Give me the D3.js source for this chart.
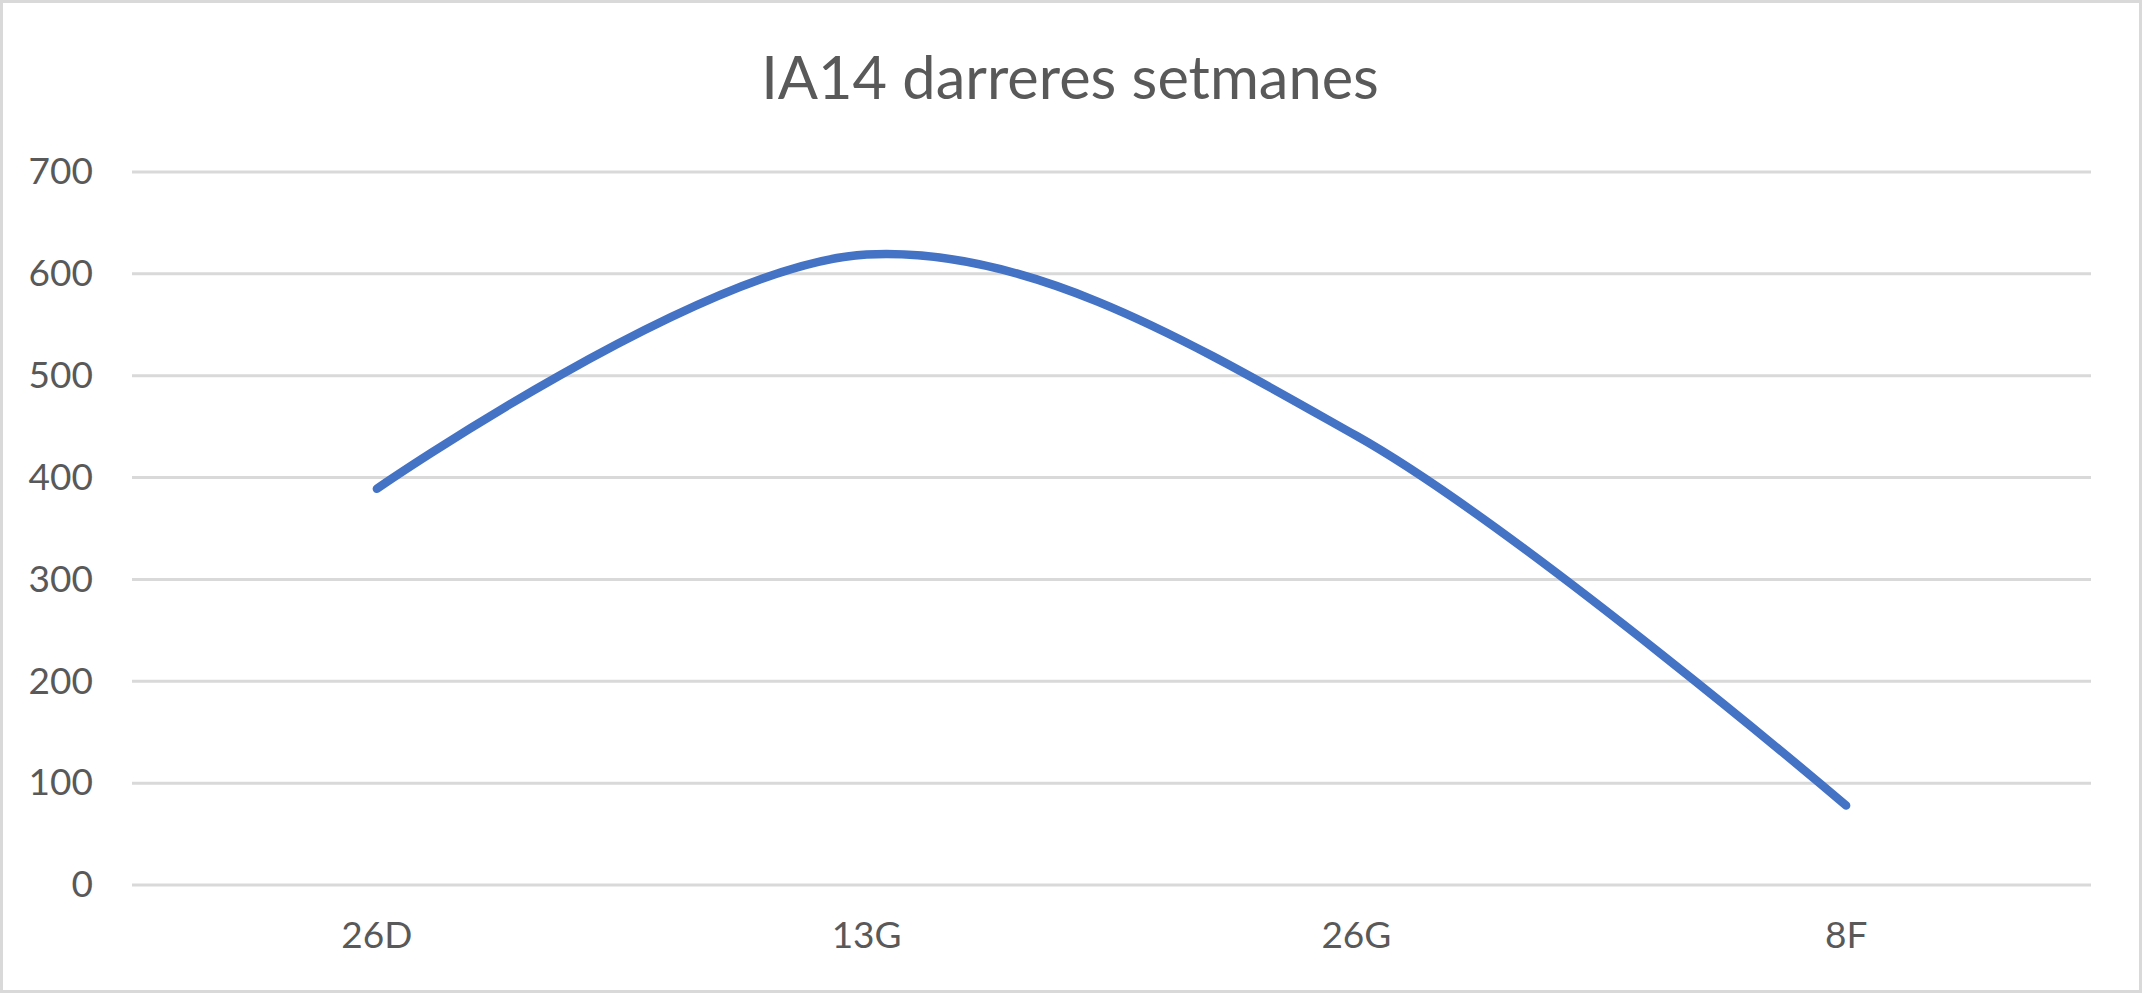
<!DOCTYPE html>
<html><head><meta charset="utf-8">
<script src="https://cdn.jsdelivr.net/npm/d3@7"></script>
<style>html,body{margin:0;padding:0;background:#fff;overflow:hidden}</style>
</head><body>
<svg id="chart" width="2142" height="993"></svg>
<script>
const title = "IA14 darreres setmanes";
const categories = ["26D", "13G", "26G", "8F"];
const values = [389, 619, 441, 78];
const yTicks = [0, 100, 200, 300, 400, 500, 600, 700];

const W = 2142, H = 993;
const svg = d3.select("#chart");
const font = "Lato, 'Open Sans', sans-serif";

svg.append("rect").attr("x", 1.5).attr("y", 1.5).attr("width", W - 3).attr("height", H - 3)
  .attr("fill", "#fff").attr("stroke", "#d9d9d9").attr("stroke-width", 3);

const x = d3.scaleBand().domain(categories).range([132, 2091]).padding(0);
const y = d3.scaleLinear().domain([0, 700]).range([885, 172]);

// gridlines
svg.append("g").selectAll("line").data(yTicks).join("line")
  .attr("x1", 132).attr("x2", 2091)
  .attr("y1", d => y(d)).attr("y2", d => y(d))
  .attr("stroke", "#d9d9d9").attr("stroke-width", 3);

// y axis labels
const yAxis = d3.axisLeft(y).tickValues(yTicks).tickSize(0).tickPadding(0);
const gy = svg.append("g").attr("transform", "translate(93,0)").call(yAxis);
gy.select(".domain").remove();
gy.selectAll("text").attr("fill", "#595959").style("font-family", font).style("font-size", "37px");

// x axis labels
const xAxis = d3.axisBottom(x).tickSize(0).tickPadding(0);
const gx = svg.append("g").attr("transform", "translate(0,922)").call(xAxis);
gx.select(".domain").remove();
gx.selectAll("text").attr("fill", "#595959").attr("dy", "0.71em").style("font-family", font).style("font-size", "37px");

// line
const line = d3.line()
  .x((d, i) => x(categories[i]) + x.bandwidth() / 2)
  .y(d => y(d))
  .curve(d3.curveCatmullRom.alpha(0));
svg.append("path").datum(values).attr("d", line)
  .attr("fill", "none").attr("stroke", "#4472c4").attr("stroke-width", 8.5)
  .attr("stroke-linecap", "round").attr("stroke-linejoin", "round");

// title
svg.append("text").attr("x", 1070).attr("y", 99).attr("text-anchor", "middle")
  .attr("fill", "#595959").style("font-family", font).style("font-size", "59.5px")
  .text(title);
</script>
</body></html>
